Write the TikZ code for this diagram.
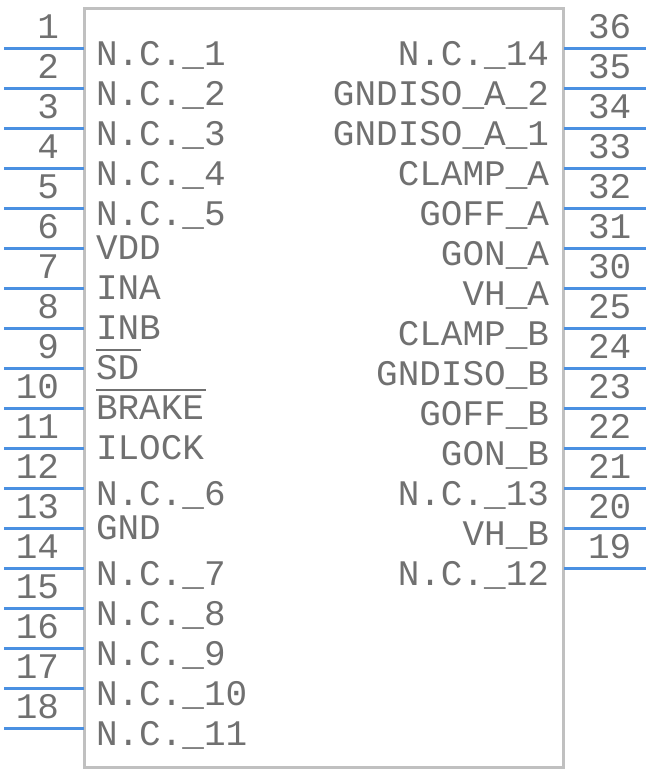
\documentclass[tikz,border=0pt]{standalone}
\usepackage{fontspec}
\setmonofont{Liberation Mono}
\usetikzlibrary{calc}
\definecolor{pinblue}{RGB}{74,144,226}
\definecolor{boxgray}{RGB}{192,192,192}
\definecolor{txtgray}{RGB}{112,112,112}
\begin{document}
\begin{tikzpicture}[x=1pt,y=-1pt,
  lbl/.style={font=\fontsize{36}{36}\selectfont\ttfamily, text=txtgray, inner sep=0pt, outer sep=0pt},
  pinline/.style={draw=pinblue, line width=3pt},
  chipbox/.style={draw=boxgray, line width=3.5pt},
  barline/.style={draw=txtgray, line width=1.6pt}]
\useasboundingbox (0,0) rectangle (648,772);
\draw[chipbox] (84.5,8.5) rectangle (563.5,767.5);
% left pins
\foreach \num/\lab/\off [count=\i from 0] in {
  1/N.C.\_1/17, 2/N.C.\_2/17, 3/N.C.\_3/17, 4/N.C.\_4/17, 5/N.C.\_5/17,
  6/VDD/11, 7/INA/11, 8/INB/11, 9/SD/11, 10/BRAKE/11, 11/ILOCK/11,
  12/N.C.\_6/17, 13/GND/11, 14/N.C.\_7/17, 15/N.C.\_8/17, 16/N.C.\_9/17,
  17/N.C.\_10/17, 18/N.C.\_11/17} {
  \pgfmathsetmacro\py{48+40*\i}
  \coordinate (La\num) at (84,\py);
  \coordinate (Lb\num) at (4,\py);
  \draw[pinline] (La\num) -- (Lb\num);
  \node[lbl, anchor=base east] (Ln\num) at (59,\py-9.5) {\num};
  \node[lbl, anchor=base west] (Lt\num) at (96,\py+\off) {\lab};
}
\draw[barline] ($(Lt9.base west)+(0,-29)$) -- ($(Lt9.base east)+(2,-29)$);
\draw[barline] ($(Lt10.base west)+(0,-29)$) -- ($(Lt10.base east)+(2,-29)$);
% right pins
\foreach \num/\lab [count=\i from 0] in {
  36/N.C.\_14, 35/GNDISO\_A\_2, 34/GNDISO\_A\_1, 33/CLAMP\_A, 32/GOFF\_A,
  31/GON\_A, 30/VH\_A, 25/CLAMP\_B, 24/GNDISO\_B, 23/GOFF\_B, 22/GON\_B,
  21/N.C.\_13, 20/VH\_B, 19/N.C.\_12} {
  \pgfmathsetmacro\py{48+40*\i}
  \coordinate (Ra\num) at (564,\py);
  \coordinate (Rb\num) at (646,\py);
  \draw[pinline] (Ra\num) -- (Rb\num);
  \node[lbl, anchor=base west] (Rn\num) at (588,\py-9.5) {\num};
  \node[lbl, anchor=base east] (Rt\num) at (549,\py+17) {\lab};
}
\end{tikzpicture}
\end{document}
